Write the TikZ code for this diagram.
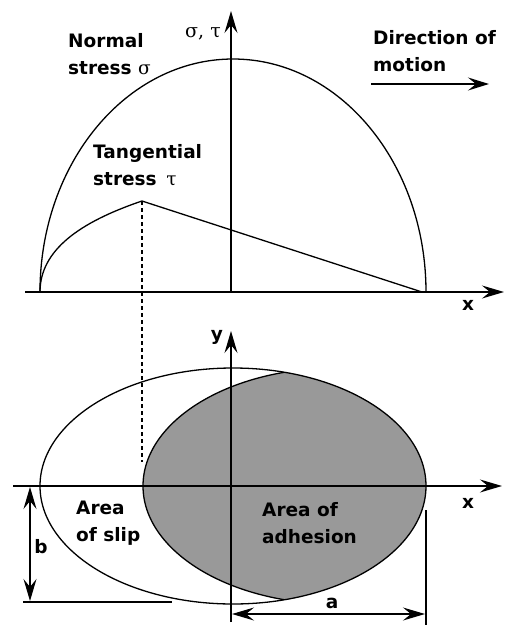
\documentclass[tikz,border=0pt]{standalone}
\usepackage{fontspec}
\setmainfont{DejaVu Sans}
\newfontfamily\grk{DejaVu Serif}
\usetikzlibrary{arrows.meta}
\begin{document}
\begin{tikzpicture}[x=1pt,y=-1pt,
  lbl/.style={font=\fontsize{18.5}{27}\selectfont\bfseries, align=left, inner sep=0pt},
  ax/.style={line width=1.4pt, -{Stealth[length=22pt,width=13pt,inset=8pt]}},
  curve/.style={line width=1.3pt},
  thin/.style={line width=1.2pt},
  dimarrow/.style={line width=1.2pt, {Stealth[length=22pt,width=13pt,inset=8pt]}-{Stealth[length=22pt,width=13pt,inset=8pt]}},
  dashline/.style={line width=1.3pt, dash pattern=on 4pt off 3pt},
  grayfill/.style={fill=black!40}]
\useasboundingbox (0,0) rectangle (505,625);
% ---------- top plot ----------
\coordinate (txs) at (25,292);
\coordinate (txe) at (504,292);
\coordinate (tys) at (231,292);
\coordinate (tye) at (231,11);
\coordinate (nl) at (40,292);
\coordinate (peak) at (142,201);
\coordinate (tend) at (422,292);
\coordinate (dend) at (142,462);
\draw[curve] (nl) arc[start angle=180, end angle=0, x radius=193pt, y radius=233pt];
\draw[curve] (nl) .. controls (40,250) and (80,222) .. (peak) -- (tend);
\draw[dashline] (peak) -- (dend);
\draw[ax] (txs) -- (txe);
\draw[ax] (tys) -- (tye);
\node[lbl] (xt) at (468,305) {x};
\node[font=\fontsize{19}{22}\selectfont\grk, inner sep=0pt] (st) at (203,34) {σ, τ};
\node[lbl, anchor=west] (normal) at (68,54.5) {Normal\\stress {\grk\mdseries σ}};
\node[lbl, anchor=west] (tang) at (93,165) {Tangential\\stress \,{\grk\mdseries τ}};
\node[lbl, anchor=west] (dir) at (373,51.5) {Direction of\\motion};
\coordinate (ms) at (371,84);
\coordinate (me) at (489,84);
\draw[line width=1.4pt, -{Stealth[length=21pt,width=13pt,inset=8pt]}] (ms) -- (me);
% ---------- bottom plot ----------
\begin{scope}
  \clip (233,486) ellipse [x radius=193pt, y radius=118pt];
  \fill[grayfill] (336,486) ellipse [x radius=193pt, y radius=118pt];
  \draw[curve] (336,486) ellipse [x radius=193pt, y radius=118pt];
\end{scope}
\draw[curve] (233,486) ellipse [x radius=193pt, y radius=118pt];
\coordinate (bxs) at (13,486);
\coordinate (bxe) at (502,486);
\coordinate (bys) at (231,622);
\coordinate (bye) at (231,331);
\draw[ax] (bxs) -- (bxe);
\draw[ax] (bys) -- (bye);
\node[lbl] (xb) at (468,503) {x};
\node[lbl] (yb) at (217,337) {y};
\node[lbl, anchor=west] (slip) at (76,523.5) {Area\\of slip};
\node[lbl, anchor=west] (adh) at (262,523.5) {Area of\\adhesion};
% dimension b
\coordinate (b1) at (30,487);
\coordinate (b2) at (30,601);
\coordinate (bl1) at (23,602);
\coordinate (bl2) at (172,602);
\draw[thin] (bl1) -- (bl2);
\draw[dimarrow] (b1) -- (b2);
\node[lbl] (blab) at (41,547) {b};
% dimension a
\coordinate (a1) at (232,614);
\coordinate (a2) at (425,614);
\coordinate (ae1) at (426,510);
\coordinate (ae2) at (426,625);
\draw[thin] (ae1) -- (ae2);
\draw[dimarrow] (a1) -- (a2);
\node[lbl] (alab) at (332,603) {a};
\end{tikzpicture}
\end{document}
